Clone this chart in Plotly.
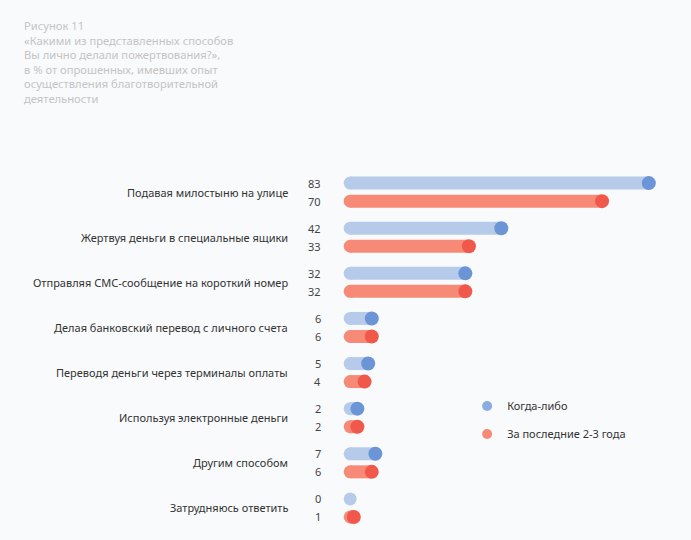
import plotly.graph_objects as go

categories = [
    "Подавая милостыню на улице",
    "Жертвуя деньги в специальные ящики",
    "Отправляя СМС-сообщение на короткий номер",
    "Делая банковский перевод с личного счета",
    "Переводя деньги через терминалы оплаты",
    "Используя электронные деньги",
    "Другим способом",
    "Затрудняюсь ответить",
]
ever = [83, 42, 32, 6, 5, 2, 7, 0]
recent = [70, 33, 32, 6, 4, 2, 6, 1]
series_names = ["Когда-либо", "За последние 2-3 года"]

title_lines = [
    "Рисунок 11",
    "«Какими из представленных способов",
    "Вы лично делали пожертвования?»,",
    "в % от опрошенных, имевших опыт",
    "осуществления благотворительной",
    "деятельности",
]

FONT = "Noto Sans"
BG = "#f9fafc"
bar_colors = ["#b6cbea", "#f78a77"]
dot_colors = ["#6b95d6", "#f0584b"]
legend_colors = ["#8aace0", "#f78a77"]
offsets = [-0.2, 0.2]

W, H = 691, 540
ML, MR, MT, MB = 343, 17, 147, 5
XR = [-2, 90]
YR = [7.6, -1]
plot_w = W - ML - MR
plot_h = H - MT - MB


def x_to_paper(v):
    return (v - XR[0]) / (XR[1] - XR[0])


fig = go.Figure()

for s, vals in enumerate([ever, recent]):
    xs, ys = [], []
    for i, v in enumerate(vals):
        y = i + offsets[s]
        xs += [0, v, None]
        ys += [y, y, None]
    fig.add_trace(go.Scatter(x=xs, y=ys, mode="lines",
                             line=dict(color=bar_colors[s], width=13),
                             showlegend=False, hoverinfo="skip"))
    fig.add_trace(go.Scatter(x=[0] * len(vals), y=[i + offsets[s] for i in range(len(vals))],
                             mode="markers",
                             marker=dict(color=bar_colors[s], size=13, line=dict(width=0)),
                             showlegend=False, hoverinfo="skip"))
    dx = [v for v in vals if v > 0]
    dy = [i + offsets[s] for i, v in enumerate(vals) if v > 0]
    fig.add_trace(go.Scatter(x=dx, y=dy, mode="markers",
                             marker=dict(color=dot_colors[s], size=14, line=dict(width=0)),
                             showlegend=False, hoverinfo="skip"))

for s in range(2):
    fig.add_trace(go.Scatter(x=[None], y=[None], mode="markers", name=series_names[s],
                             marker=dict(color=legend_colors[s], size=10),
                             legendgroup=str(s)))

annotations = []
cat_x = x_to_paper(-16.7)
val_x = x_to_paper(-7.5)
for i, c in enumerate(categories):
    annotations.append(dict(x=cat_x, y=i, xref="paper", yref="y", text=c, showarrow=False,
                            xanchor="right", yanchor="middle",
                            font=dict(family=FONT, size=11, color="#333333")))
    for s, vals in enumerate([ever, recent]):
        annotations.append(dict(x=val_x, y=i + offsets[s], xref="paper", yref="y", text=str(vals[i]),
                                showarrow=False, xanchor="right", yanchor="middle",
                                font=dict(family=FONT, size=11, color="#444444")))

# title block (top-left of the page)
annotations.append(dict(x=(23 - ML) / plot_w, y=(H - MB - 17) / plot_h, xref="paper", yref="paper",
                        text="<br>".join(title_lines), showarrow=False, align="left",
                        xanchor="left", yanchor="top", borderpad=0,
                        font=dict(family=FONT, size=11.2, color="#c4c4c4")))

fig.update_layout(
    width=W, height=H,
    paper_bgcolor=BG, plot_bgcolor=BG,
    margin=dict(l=ML, r=MR, t=MT, b=MB),
    xaxis=dict(range=XR, visible=False, fixedrange=True),
    yaxis=dict(range=YR, visible=False, fixedrange=True),
    annotations=annotations,
    legend=dict(x=0.375, y=0.37, xanchor="left", yanchor="top", bgcolor="rgba(0,0,0,0)",
                font=dict(family=FONT, size=11, color="#333333"),
                traceorder="grouped", tracegroupgap=9),
    showlegend=True,
)

fig.write_html("out.html")
